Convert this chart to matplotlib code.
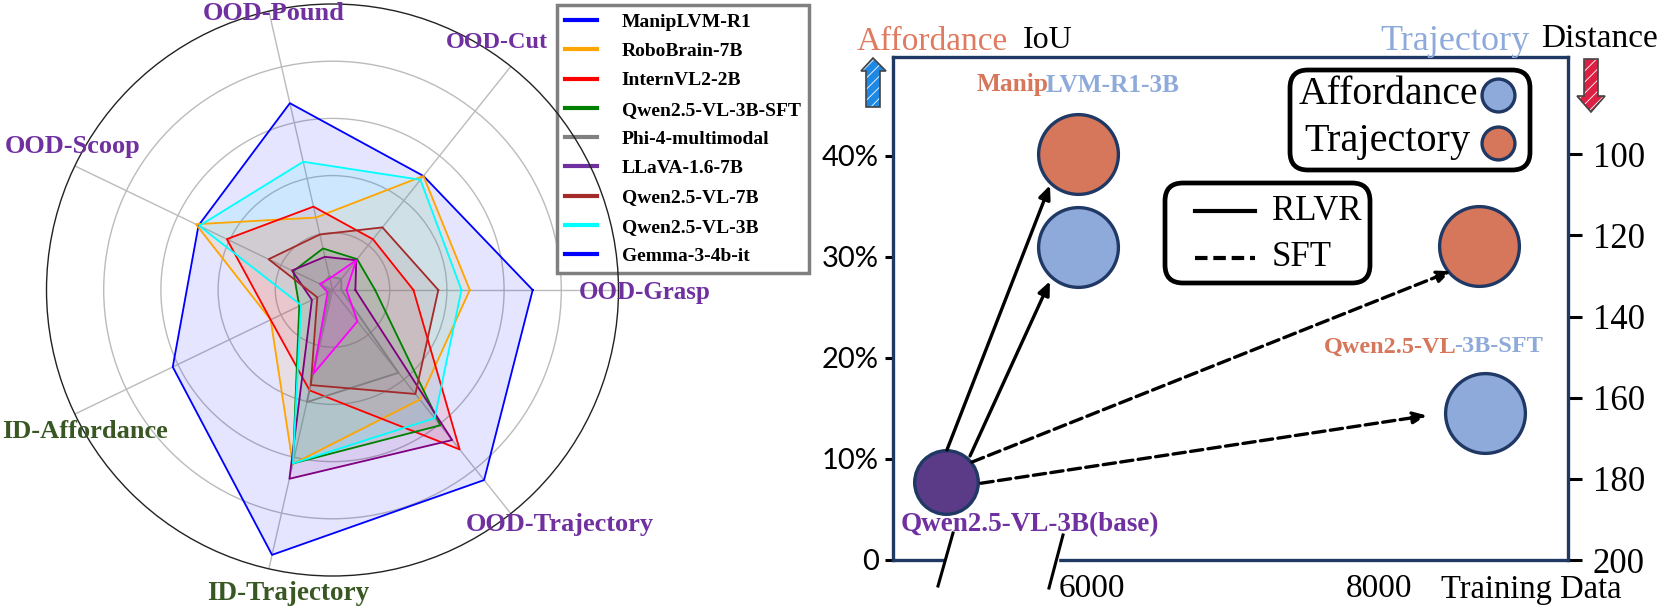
#radar of model scores + training data bubble chart
import numpy as np
import matplotlib
matplotlib.use('Agg')
from matplotlib import pyplot as plt
from matplotlib.lines import Line2D
from matplotlib.patches import Circle, FancyBboxPatch, Polygon, Rectangle

W, H = 1661, 608
SERIF = 'Liberation Serif'
SANS = 'Lato'

categories = ['OOD-Grasp', 'OOD-Cut', 'OOD-Pound', 'OOD-Scoop',
              'ID-Affordance', 'ID-Trajectory', 'OOD-Trajectory']

models = ['ManipLVM-R1', 'RoboBrain-7B', 'InternVL2-2B', 'Qwen2.5-VL-3B-SFT',
          'Phi-4-multimodal', 'LLaVA-1.6-7B', 'Qwen2.5-VL-7B', 'Qwen2.5-VL-3B',
          'Gemma-3-4b-it']
line_colors = ['blue', 'orange', 'red', 'green', 'gray', 'purple', 'brown', 'cyan', 'magenta']
legend_colors = ['blue', 'orange', 'red', 'green', 'gray', '#7030A0', 'brown', 'cyan', 'blue']

manip = [70, 51, 67, 52, 62, 95, 85]
robobrain = [48, 51, 26, 53, 24, 62.4, 49]
internvl = [28.3, 22.7, 29.9, 41, 24, 36, 71.3]
qwen_sft = [14.9, 13.8, 14.9, 15.2, 12.9, 62.2, 60.5]
phi = [3.1, 4.9, 4.9, 4.2, 1, 40.2, 37]
llava = [8, 13.3, 11.9, 15.7, 8, 67.7, 67.1]
qwen_7b = [37, 28, 19.9, 24.8, 5.9, 34.1, 46.5]
qwen_3b = [45.1, 49.3, 46, 51.7, 12.2, 62.2, 57.3]
gemma = [4.9, 13.3, 4.2, 4.9, 1.9, 30, 14]
radar_values = [manip, robobrain, internvl, qwen_sft, phi, llava, qwen_7b, qwen_3b, gemma]

# right panel, iou is on the left axis and distance on the right one
base_x, base_iou = 4980, 7.75
iou_x = [5900, 8740]
iou_values = [31, 14.6]
dist_x = [5900, 8700]
dist_values = [100, 122.7]
arrow_starts = [(4988, 10.9), (5149, 10.3), (5163, 9.7), (5225, 7.6)]
arrow_ends = [(5706, 37.1), (5706, 27.6), (8501, 28.6), (8333, 14.3)]
arrow_styles = ['-', '-', '--', '--']

iou_ticks = [0, 10, 20, 30, 40]
iou_ticklabels = ['0', '10%', '20%', '30%', '40%']
dist_ticks = [100, 120, 140, 160, 180, 200]
x_ticks = [6000, 8000]

NAVY = '#1F3864'
ORANGE = '#D6765A'
BLUE = '#8EAADB'
PURPLE = '#7030A0'
DARKGREEN = '#385723'

plt.rcParams['hatch.linewidth'] = 0.6
fig = plt.figure(figsize=(W / 100, H / 100), dpi=100)

# radar
cx, cy, R = 332.5, 290, 286
ax = fig.add_axes([(cx - R) / W, (H - cy - R) / H, 2 * R / W, 2 * R / H], projection='polar')
angles = np.linspace(0, 2 * np.pi, len(categories), endpoint=False)
closed = np.append(angles, angles[0])
for vals, c in zip(radar_values, line_colors):
    v = vals + vals[:1]
    ax.plot(closed, v, color=c, lw=1.3, zorder=3)
    ax.fill(closed, v, color=c, alpha=0.1, zorder=2)
ax.set_ylim(0, 100)
ax.set_yticks([20, 40, 60, 80])
ax.set_yticklabels([])
ax.set_xticks(angles)
ax.set_xticklabels([])
ax.tick_params(length=0)
ax.grid(color='#bbbbbb', lw=1)
ax.spines['polar'].set_visible(False)

handles = [Line2D([], [], color=c, lw=3) for c in legend_colors]
leg = ax.legend(handles, models, loc='upper left', bbox_to_anchor=(557 / W, 1 - 5 / H),
                bbox_transform=fig.transFigure, fancybox=False, framealpha=1,
                edgecolor='#808080', prop={'family': SERIF, 'weight': 'bold', 'size': 14},
                labelspacing=0.6, handlelength=1.65, handletextpad=1.25, borderpad=0.42,
                borderaxespad=0)
leg.get_frame().set_linewidth(2.5)

# bubble chart
left, right, top, bottom = 893, 1568, 57, 560
bx = fig.add_axes([left / W, (H - bottom) / H, (right - left) / W, (bottom - top) / H])
bx.set_xlim(4612, 9317)
bx.set_ylim(0, 49.8)
bx.set_xticks(x_ticks)
bx.set_yticks(iou_ticks)
bx.set_yticklabels(iou_ticklabels)
bx.tick_params(axis='y', length=6, width=2.2, labelsize=21, pad=4)
bx.tick_params(axis='x', length=0, labelsize=24, pad=10)
for s in bx.spines.values():
    s.set_color(NAVY)
    s.set_linewidth(2.4)

dx = bx.twinx()
dx.set_ylim(200, 76)
dx.set_yticks(dist_ticks)
dx.tick_params(axis='y', length=10, width=2.2, labelsize=25, pad=8)
for s in dx.spines.values():
    s.set_visible(False)
for t in bx.get_yticklabels():
    t.set_family(SANS)
for t in bx.get_xticklabels() + dx.get_yticklabels():
    t.set_family(SERIF)

bx.scatter(iou_x, iou_values, s=3300, color=BLUE, edgecolor=NAVY, lw=2.4, zorder=3)
dx.scatter(dist_x, dist_values, s=3300, color=ORANGE, edgecolor=NAVY, lw=2.4, zorder=3)
bx.scatter([base_x], [base_iou], s=2100, color='#5B3A87', edgecolor=NAVY, lw=2.4, zorder=3)
dx.set_zorder(bx.get_zorder() - 1)
bx.patch.set_visible(False)
for st, en, ls in zip(arrow_starts, arrow_ends, arrow_styles):
    bx.annotate('', xy=en, xytext=st, zorder=4,
                arrowprops=dict(arrowstyle='-|>,head_width=0.35,head_length=0.8', color='black',
                                lw=2.4, ls=ls, shrinkA=0, shrinkB=0))

# overlay in pixels for the hand placed texts, boxes, icons
ov = fig.add_axes([0, 0, 1, 1], zorder=10)
ov.set_xlim(0, W)
ov.set_ylim(H, 0)
ov.axis('off')

# outer ring goes over the legend in the original
ov.add_patch(Circle((cx, cy), R, fill=False, ec='#222222', lw=1))


def label(x, y, s, color, size=15.5, ha='left', weight='bold', family=SERIF):
    return ov.text(x, y, s, color=color, fontsize=size, ha=ha, va='center',
                   fontweight=weight, family=family)


def joined(x, y, parts, size=15.5, weight='bold'):
    # consecutive coloured pieces of one label
    t = None
    for s, c in parts:
        if t is None:
            t = label(x, y, s, c, size, weight=weight)
        else:
            t = ov.annotate(s, xy=(1, 0), xycoords=t, xytext=(-2, 0), textcoords='offset points',
                            va='bottom', color=c, fontsize=size, fontweight=weight, family=SERIF)
    return t


label(203, 13, 'OOD-Pound', PURPLE, 19)
label(5, 146, 'OOD-Scoop', PURPLE, 19)
label(446, 42, 'OOD-Cut', PURPLE, 17.5)
label(579, 292, 'OOD-Grasp', PURPLE, 18)
label(2, 431, 'ID-Affordance', DARKGREEN, 19)
label(207, 593, 'ID-Trajectory', DARKGREEN, 19.5)
label(466, 525, 'OOD-Trajectory', PURPLE, 19)

label(857, 42, 'Affordance', '#DE7B60', 24, weight='normal')
label(1023, 41, 'IoU', 'black', 23, weight='normal')
label(1380, 42, 'Trajectory', BLUE, 26, weight='normal')
label(1541, 39, 'Distance', 'black', 24, weight='normal')
label(1441, 590, 'Training Data', 'black', 23.5, weight='normal')

joined(977, 85, [('Manip', ORANGE), ('LVM-R1-3B', BLUE)], 18.3)
joined(1324, 347, [('Qwen2.5-VL', ORANGE), ('-3B-SFT', BLUE)], 17.5)
label(901, 525, 'Qwen2.5-VL-3B(base)', PURPLE, 19.5)

# broken x axis
ov.add_patch(Rectangle((945, bottom - 3), 113, 6, color='white', zorder=1))
ov.plot([953, 938], [533, 586], color='black', lw=2.2)
ov.plot([1063, 1049], [535, 588], color='black', lw=2.2)

# legends drawn by hand
for box in [(1290, 70, 240, 100), (1165, 183, 205, 100)]:
    ov.add_patch(FancyBboxPatch((box[0] + 14, box[1] + 14), box[2] - 28, box[3] - 28,
                                boxstyle='round,pad=14,rounding_size=18', fc='white',
                                ec='black', lw=3.4))
label(1299, 94, 'Affordance', 'black', 28.5, weight='normal')
label(1304, 142, 'Trajectory', 'black', 29, weight='normal')
ov.scatter([1498], [95], s=560, color=BLUE, edgecolor=NAVY, lw=2.4, zorder=3)
ov.scatter([1498], [143], s=560, color=ORANGE, edgecolor=NAVY, lw=2.4, zorder=3)
ov.plot([1195, 1255], [211, 211], color='black', lw=3)
ov.plot([1195, 1255], [258, 258], color='black', lw=3, ls='--', dashes=(3, 1.4))
label(1272, 211, 'RLVR', 'black', 25, weight='normal')
label(1272, 258, 'SFT', 'black', 25, weight='normal')

# sketchy arrows next to the axis titles
up = [(873, 58), (886, 71), (880, 71), (880, 107), (866, 107), (866, 71), (861, 71)]
down = [(1591, 112), (1605, 96), (1598, 96), (1598, 59), (1584, 59), (1584, 96), (1577, 96)]
for pts, c in [(up, '#1E88E5'), (down, '#DC2043')]:
    ov.add_patch(Polygon(pts, closed=True, fc=c, ec='#ffffff', lw=0, hatch='///'))
    ov.add_patch(Polygon(pts, closed=True, fill=False, ec='#444444', lw=1.2))

fig.savefig('out.png', dpi=100)
